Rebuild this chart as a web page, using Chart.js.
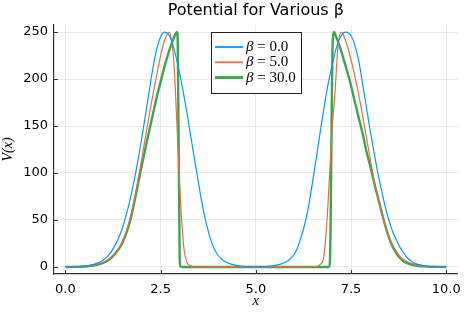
<!DOCTYPE html>
<html><head><meta charset="utf-8">
<script src="https://cdn.jsdelivr.net/npm/chart.js@4"></script>
<style>html,body{margin:0;padding:0;background:#fff}</style>
</head><body>
<canvas id="c" width="469" height="313"></canvas>
<script>
const seriesLabels = ['β = 0.0', 'β = 5.0', 'β = 30.0'];
const xTicks = [0, 2.5, 5, 7.5, 10];
const yTicks = [0, 50, 100, 150, 200, 250];

const beta0X = [0,0.2,0.4,0.6,0.8,1.0,1.1,1.2,1.3,1.4,1.5,1.6,1.7,1.8,1.9,2.0,2.1,2.2,2.3,2.4,2.5,2.6,2.7,2.8,2.9,3.0,3.1,3.2,3.3,3.4,3.5,3.6,3.7,3.8,3.9,4.0,4.1,4.2,4.35,4.6,4.8,5.0,5.2,5.4,5.65,5.8,5.9,6.0,6.1,6.2,6.3,6.4,6.5,6.6,6.7,6.8,6.9,7.0,7.1,7.2,7.3,7.37,7.5,7.6,7.7,7.8,7.9,8.0,8.1,8.2,8.3,8.4,8.5,8.6,8.7,8.8,8.9,9.0,9.1,9.2,9.4,9.6,9.8,10];
const beta0Y = [0,0.1,0.5,1.5,3.5,7.5,11,16,23,31,42,56,72,91,112,136,161,187,212,232,245,250,248,239,224,206,185,162,137,112,88,65,46,31,20,13,8.5,5.5,3,1,0.4,0.2,0.4,1,3,5.5,8.5,13,21,33,48,68,93,119,146,172,195,214,231,243,249,250,246,236,220,196,171,146,123,101,82,64,49,37,28,20,14,9,5.5,3.5,1.5,0.5,0.1,0];

const beta5X = [0,0.4,0.6,0.8,1.0,1.2,1.4,1.5,1.6,1.7,1.8,1.9,2.0,2.1,2.2,2.3,2.4,2.5,2.6,2.7,2.73,2.79,2.84,2.88,2.94,3.0,3.06,3.12,3.19,3.3,3.45,4.0,6.0,6.6,6.7,6.78,6.86,6.96,7.02,7.08,7.16,7.25,7.33,7.42,7.51,7.6,7.7,7.8,7.9,8.0,8.1,8.2,8.3,8.4,8.5,8.6,8.7,8.8,9.0,9.2,9.4,9.6,10];
const beta5Y = [0,0.3,1,2.5,5,10.5,20,27,38,52,70,91,114,138,161,184,205,225,241,249,250,240,222,195,140,88,45,17,5,1,0.1,0,0,0.5,3,10,44,115,155,186,236,250,244,233,219,203,184,162,139,116,94,75,58,44,32,23,16,10.5,5,2.5,1,0.3,0];

const beta30X = [0,0.4,0.6,0.8,1.0,1.2,1.4,1.5,1.6,1.7,1.8,1.9,2.0,2.1,2.2,2.3,2.4,2.5,2.6,2.7,2.8,2.88,2.93,2.95,3.0,3.02,3.1,6.9,6.93,6.95,7.02,7.06,7.1,7.2,7.3,7.4,7.5,7.6,7.7,7.8,7.9,8.0,8.1,8.2,8.3,8.4,8.5,8.6,8.7,8.8,8.9,9.0,9.2,9.4,9.6,10];
const beta30Y = [0,0.2,0.8,2,4.5,9.5,19,26,36,49,67,87,107,126,145,163,181,197,213,227,239,247,250,240,10,0.5,0,0,0.5,10,240,250,246,235,222,208,193,176,159,143,124,108,91,75,59,44,31,21,14,9,5.5,3.5,1.5,0.6,0.2,0];

const colors = ['#009AFA', '#E36F47', '#3EA44E'];
const widths = [1.2, 1.2, 2.4];
const xs = [beta0X, beta5X, beta30X];
const ys = [beta0Y, beta5Y, beta30Y];

const datasets = seriesLabels.map((lab, i) => ({
  label: lab,
  data: xs[i].map((x, j) => ({x: x, y: ys[i][j]})),
  borderColor: colors[i],
  backgroundColor: colors[i],
  borderWidth: widths[i],
  pointRadius: 0,
  fill: false,
  cubicInterpolationMode: 'monotone'
}));

const tickMarkPlugin = {
  id: 'innerTicks',
  afterDraw(chart) {
    const ctx = chart.ctx, a = chart.chartArea;
    const sx = chart.scales.x, sy = chart.scales.y;
    ctx.save();
    ctx.strokeStyle = '#333';
    ctx.lineWidth = 1;
    ctx.beginPath();
    sx.ticks.forEach(t => { const p = Math.round(sx.getPixelForValue(t.value)) + 0.5; ctx.moveTo(p, a.bottom); ctx.lineTo(p, a.bottom - 4); });
    sy.ticks.forEach(t => { const p = Math.round(sy.getPixelForValue(t.value)) + 0.5; ctx.moveTo(a.left, p); ctx.lineTo(a.left + 4, p); });
    ctx.stroke();
    ctx.restore();
  }
};

const legendPlugin = {
  id: 'boxLegend',
  afterDatasetsDraw(chart) {
    const ctx = chart.ctx;
    const bx = 211.5, by = 32.5, bw = 90, bh = 61;
    ctx.save();
    ctx.fillStyle = '#fff';
    ctx.fillRect(bx, by, bw, bh);
    ctx.strokeStyle = '#222';
    ctx.lineWidth = 1;
    ctx.strokeRect(bx, by, bw, bh);
    chart.data.datasets.forEach((ds, i) => {
      const y = 47 + 15.3 * i;
      ctx.beginPath();
      ctx.strokeStyle = ds.borderColor;
      ctx.lineWidth = ds.borderWidth + 0.6;
      ctx.moveTo(215, y);
      ctx.lineTo(243, y);
      ctx.stroke();
      ctx.fillStyle = '#000';
      ctx.textBaseline = 'middle';
      const first = ds.label.charAt(0);
      const rest = ds.label.slice(1);
      ctx.font = 'italic 15px "Liberation Serif"';
      ctx.fillText(first, 246, y);
      const w = ctx.measureText(first).width;
      ctx.font = '15px "Liberation Serif"';
      ctx.fillText(rest, 246 + w, y);
    });
    ctx.restore();
  }
};

new Chart(document.getElementById('c'), {
  type: 'line',
  data: { datasets: datasets },
  plugins: [legendPlugin, tickMarkPlugin],
  options: {
    responsive: false,
    animation: false,
    layout: { padding: { left: 0, right: 9, top: 0, bottom: 0 } },
    plugins: {
      legend: { display: false },
      tooltip: { enabled: false },
      title: {
        display: true,
        text: 'Potential for Various β',
        fullSize: false,
        color: '#000',
        font: { family: 'DejaVu Sans', size: 16, weight: 'normal', lineHeight: 1.15 },
        padding: { top: 2, bottom: 4.6 }
      }
    },
    scales: {
      x: {
        type: 'linear',
        min: -0.3, max: 10.3,
        afterBuildTicks: s => { s.ticks = xTicks.map(v => ({ value: v })); },
        afterFit: s => { s.height = 39; },
        ticks: { color: '#000', font: { family: 'DejaVu Sans', size: 13 }, padding: 8, maxRotation: 0,
                 callback: v => Number(v).toFixed(1) },
        grid: { color: 'rgba(0,0,0,0.08)', drawTicks: false },
        border: { display: true, color: '#333', width: 1.2 },
        title: { display: true, text: 'x', color: '#000',
                 font: { family: 'Liberation Serif', style: 'italic', size: 15 }, padding: { top: 0, bottom: 3 } }
      },
      y: {
        type: 'linear',
        min: -7.5, max: 257.5,
        afterBuildTicks: s => { s.ticks = yTicks.map(v => ({ value: v })); },
        afterFit: s => { s.width = 54; },
        ticks: { color: '#000', font: { family: 'DejaVu Sans', size: 13 }, padding: 6 },
        grid: { color: 'rgba(0,0,0,0.08)', drawTicks: false },
        border: { display: true, color: '#333', width: 1.2 },
        title: { display: true, text: 'V(x)', color: '#000',
                 font: { family: 'Liberation Serif', style: 'italic', size: 14 }, padding: 0 }
      }
    }
  }
});
</script>
</body></html>
